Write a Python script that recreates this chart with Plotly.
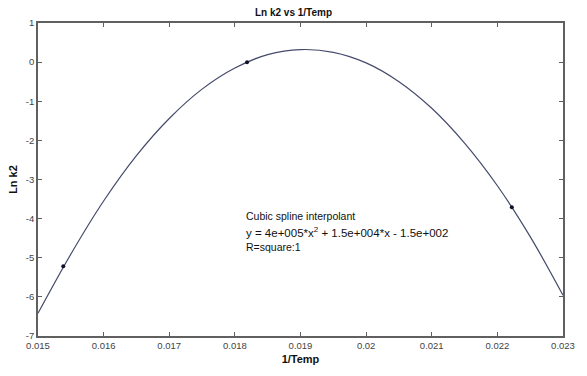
import plotly.graph_objects as go

# Data points
pts_x = [0.015385, 0.018185, 0.02222]
pts_y = [-5.22, 0.0, -3.71]

# Fitted curve at regular steps
curve_x = [0.0150, 0.0155, 0.0160, 0.0165, 0.0170, 0.0175, 0.0180, 0.0185, 0.0190,
           0.0195, 0.0200, 0.0205, 0.0210, 0.0215, 0.0220, 0.0225, 0.0230]
curve_y = [-6.42, -4.91, -3.55, -2.39, -1.44, -0.69, -0.15, 0.19, 0.32,
           0.25, -0.02, -0.50, -1.18, -2.07, -3.16, -4.46, -5.96]

x_ticks = [0.015, 0.016, 0.017, 0.018, 0.019, 0.020, 0.021, 0.022, 0.023]
x_labels = ["0.015", "0.016", "0.017", "0.018", "0.019", "0.02", "0.021", "0.022", "0.023"]
y_ticks = [1, 0, -1, -2, -3, -4, -5, -6, -7]
y_labels = ["1", "0", "-1", "-2", "-3", "-4", "-5", "-6", "-7"]

note_lines = ["Cubic spline interpolant",
              "y = 4e+005*x<sup>2</sup> + 1.5e+004*x - 1.5e+002",
              "R=square:1"]

FONT = "Liberation Sans, Arial"

fig = go.Figure()
fig.add_trace(go.Scatter(x=curve_x, y=curve_y, mode="lines",
                         line=dict(color="#454a6a", width=1.2, shape="spline", smoothing=1.0),
                         hoverinfo="skip", showlegend=False))
fig.add_trace(go.Scatter(x=pts_x, y=pts_y, mode="markers",
                         marker=dict(color="#101028", size=4),
                         showlegend=False))

axis_common = dict(showgrid=False, zeroline=False, showline=True, linecolor="#606060",
                   linewidth=1.6, mirror="ticks", ticks="inside", ticklen=4,
                   tickcolor="#606060", tickfont=dict(family=FONT, size=9.5, color="#444444"))

fig.update_xaxes(range=[0.015, 0.023], tickvals=x_ticks, ticktext=x_labels,
                 title=dict(text="<b>1/Temp</b>", font=dict(family=FONT, size=11, color="#111111"), standoff=5),
                 **axis_common)
fig.update_yaxes(range=[-7, 1], tickvals=y_ticks, ticktext=y_labels,
                 title=dict(text="<b>Ln k2</b>", font=dict(family=FONT, size=11, color="#111111"), standoff=6),
                 **axis_common)

for line, yp, sz in zip(note_lines, [0.383, 0.333, 0.285], [10.5, 11.5, 10.5]):
    fig.add_annotation(xref="paper", yref="paper", x=0.392, y=yp, xanchor="left", yanchor="middle",
                       align="left", showarrow=False, text=line,
                       font=dict(family=FONT, size=sz, color="#111111"))

fig.update_layout(
    width=587, height=376,
    margin=dict(l=35, r=12, t=23, b=37),
    paper_bgcolor="white", plot_bgcolor="white",
    title=dict(text="<b>Ln k2 vs 1/Temp</b>", x=0.5, xanchor="center", y=0.975, yanchor="top",
               font=dict(family=FONT, size=10, color="#111111")),
)

fig.write_html("out.html")
